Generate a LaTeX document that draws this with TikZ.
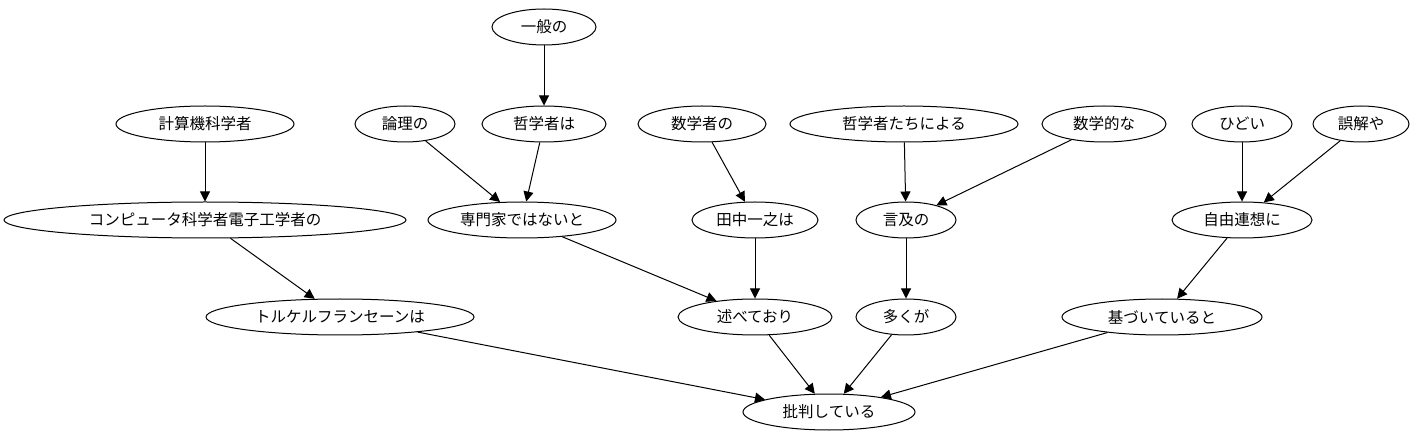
\documentclass[tikz,border=0pt]{standalone}
\usepackage{fontspec}
\newfontfamily\jpfont{Noto Sans CJK JP}
\usepackage{tikz}
\usetikzlibrary{shapes,positioning}
\usetikzlibrary{arrows.meta}
\tikzset{>={Triangle[width=10pt,length=10pt]}}

\begin{document}
\begin{tikzpicture}[x=1pt,y=-1pt,line width=1pt]
    \tikzstyle{wnode} = [draw=black, ellipse, inner sep=0pt, minimum height=36pt, font=\jpfont\fontsize{15.5pt}{17pt}\selectfont]

    \useasboundingbox (0,0) rectangle (1426,443);

    \node[wnode, minimum width=104pt] (ippan) at (544,27) {一般の};

    \node[wnode, minimum width=178pt] (keisan) at (205,124) {計算機科学者};
    \node[wnode, minimum width=100pt] (ronri) at (405,124) {論理の};
    \node[wnode, minimum width=124pt] (tetsu) at (544,124) {哲学者は};
    \node[wnode, minimum width=128pt] (suga) at (702,124) {数学者の};
    \node[wnode, minimum width=228pt] (tetsutachi) at (904,124) {哲学者たちによる};
    \node[wnode, minimum width=124pt] (sugakuteki) at (1104,124) {数学的な};
    \node[wnode, minimum width=100pt] (hidoi) at (1242,124) {ひどい};
    \node[wnode, minimum width=96pt] (gokai) at (1361,124) {誤解や};

    \node[wnode, minimum width=402pt] (computer) at (205,220) {コンピュータ科学者電子工学者の};
    \node[wnode, minimum width=188pt] (senmon) at (522,220) {専門家ではないと};
    \node[wnode, minimum width=126pt] (tanaka) at (755,220) {田中一之は};
    \node[wnode, minimum width=100pt] (genkyu) at (906,220) {言及の};
    \node[wnode, minimum width=140pt] (jiyu) at (1242,220) {自由連想に};

    \node[wnode, minimum width=268pt] (torkel) at (340,317) {トルケルフランセーンは};
    \node[wnode, minimum width=154pt] (nobete) at (755,317) {述べており};
    \node[wnode, minimum width=100pt] (ooku) at (906,317) {多くが};
    \node[wnode, minimum width=200pt] (motozu) at (1162,317) {基づいていると};

    \node[wnode, minimum width=172pt] (hihan) at (829,412) {批判している};

    \draw[->] (ippan) -- (tetsu);
    \draw[->] (keisan) -- (computer);
    \draw[->] (ronri) -- (senmon);
    \draw[->] (tetsu) -- (senmon);
    \draw[->] (suga) -- (tanaka);
    \draw[->] (tetsutachi) -- (genkyu);
    \draw[->] (sugakuteki) -- (genkyu);
    \draw[->] (hidoi) -- (jiyu);
    \draw[->] (gokai) -- (jiyu);
    \draw[->] (computer) -- (torkel);
    \draw[->] (senmon) -- (nobete);
    \draw[->] (tanaka) -- (nobete);
    \draw[->] (genkyu) -- (ooku);
    \draw[->] (jiyu) -- (motozu);
    \draw[->] (torkel) -- (hihan);
    \draw[->] (nobete) -- (hihan);
    \draw[->] (ooku) -- (hihan);
    \draw[->] (motozu) -- (hihan);

\end{tikzpicture}
\end{document}
